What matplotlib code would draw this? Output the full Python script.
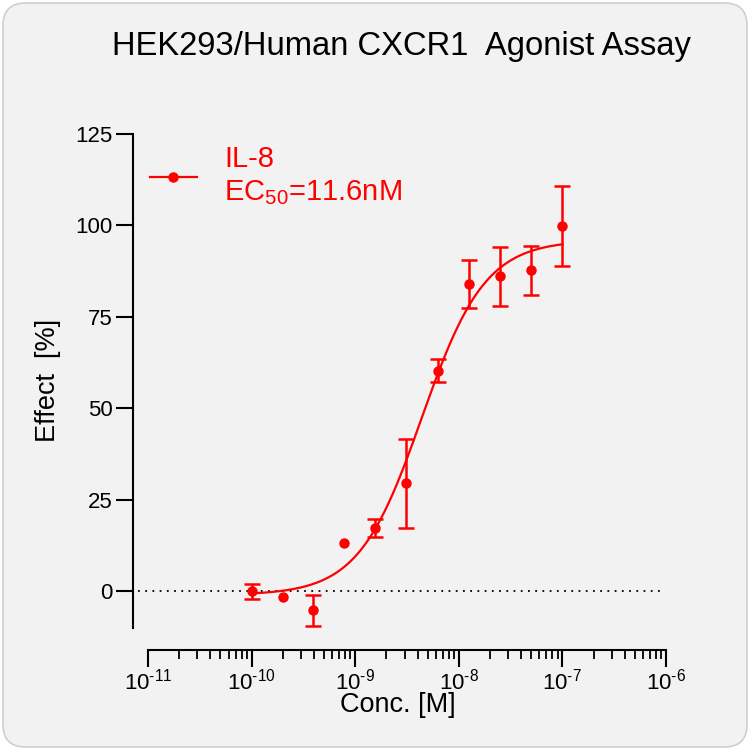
import numpy as np
import matplotlib
matplotlib.use("Agg")
import matplotlib.pyplot as plt
from matplotlib.patches import FancyBboxPatch
from matplotlib.ticker import FixedLocator, FixedFormatter, LogLocator, NullFormatter

plt.rcParams['font.family'] = ['Liberation Sans', 'DejaVu Sans']
plt.rcParams['mathtext.fontset'] = 'custom'
plt.rcParams['mathtext.rm'] = 'Liberation Sans'
plt.rcParams['mathtext.it'] = 'Liberation Sans'
plt.rcParams['mathtext.default'] = 'regular'

# ---- data ----
conc = [1e-10, 2e-10, 3.9e-10, 7.8e-10, 1.56e-9, 3.125e-9, 6.25e-9, 1.25e-8, 2.5e-8, 5e-8, 1e-7]
effect = [0.0, -1.4, -5.2, 13.2, 17.3, 29.5, 60.3, 84.1, 86.1, 87.8, 99.8]
err = [2.0, 0.0, 4.3, 0.0, 2.5, 12.1, 3.1, 6.6, 8.1, 6.7, 11.0]
# 4PL fit parameters
fit_bottom, fit_top, fit_ec50, fit_hill = -1.0, 96.0, 4.4e-9, 1.42
series_label = "IL-8\nEC$_{50}$=11.6nM"
title = "HEK293/Human CXCR1  Agonist Assay"
xlabel = "Conc. [M]"
ylabel = "Effect  [%]"
yticks = [0, 25, 50, 75, 100, 125]
xticks = [1e-11, 1e-10, 1e-9, 1e-8, 1e-7, 1e-6]
xticklabels = [r"$10^{\text{-}11}$", r"$10^{\text{-}10}$", r"$10^{\text{-}9}$",
               r"$10^{\text{-}8}$", r"$10^{\text{-}7}$", r"$10^{\text{-}6}$"]

red = "#ff0000"

fig = plt.figure(figsize=(7.5, 7.5), dpi=100, facecolor="white")
bg = FancyBboxPatch((0.004, 0.004), 0.992, 0.992, boxstyle="round,pad=0,rounding_size=0.03",
                    transform=fig.transFigure, facecolor="#f2f2f2", edgecolor="#cfcfcf",
                    linewidth=1.2, zorder=-10)
fig.patches.append(bg)

W = H = 750.0
ax = fig.add_axes([148 / W, (H - 628) / H, (666 - 148) / W, (628 - 134) / H])
ax.set_facecolor("none")

ax.set_xscale("log")
ax.set_xlim(1e-11, 1e-6)
ax.set_ylim(-10, 125)

# curve
xs = np.logspace(np.log10(conc[0]), np.log10(conc[-1]), 300)
ys = fit_bottom + (fit_top - fit_bottom) / (1 + (fit_ec50 / xs) ** fit_hill)
ax.plot(xs, ys, color=red, lw=1.6, zorder=3)

# zero line
ax.axhline(0, xmin=-0.02, xmax=0.99, color="black", lw=1.3, ls=(0, (1, 3)), clip_on=False, zorder=1)

# points
c = np.array(conc); e = np.array(effect); r = np.array(err)
m = r > 0
ax.errorbar(c[m], e[m], yerr=r[m], fmt="none", ecolor=red, elinewidth=1.8,
            capsize=6, capthick=1.8, zorder=4)
ax.plot(c, e, "o", color=red, ms=6.5, zorder=5)
ax.plot([], [], color=red, marker="o", ms=6.5, lw=1.6, label=series_label)

leg = ax.legend(loc="upper left", bbox_to_anchor=(0.004, 0.977), frameon=False, fontsize=21,
                handlelength=1.6, handletextpad=0.95, borderaxespad=0, borderpad=0,
                labelspacing=0.1)
for t in leg.get_texts():
    t.set_color(red)
    t.set_linespacing(1.2)

# spines
for s in ["top", "right"]:
    ax.spines[s].set_visible(False)
ax.spines["left"].set_position(("outward", 11))
ax.spines["bottom"].set_position(("outward", 16))
ax.spines["left"].set_linewidth(1.5)
ax.spines["bottom"].set_linewidth(1.5)

ax.yaxis.set_major_locator(FixedLocator(yticks))
ax.tick_params(axis="y", which="major", length=12, width=1.5, labelsize=16, pad=2.5)
ax.xaxis.set_major_locator(FixedLocator(xticks))
ax.xaxis.set_major_formatter(FixedFormatter(xticklabels))
ax.xaxis.set_minor_locator(LogLocator(base=10, subs=np.arange(2, 10), numticks=20))
ax.xaxis.set_minor_formatter(NullFormatter())
ax.tick_params(axis="x", which="major", length=12, width=1.5, labelsize=16, pad=1)
ax.tick_params(axis="x", which="minor", length=6.5, width=1.3)

fig.text(398 / W, (H - 705) / H, xlabel, fontsize=19.5, ha="center", va="center")
fig.text(48 / W, (H - 380) / H, ylabel, fontsize=19.5, ha="center", va="center", rotation=90)
fig.text(401 / W, (H - 47) / H, title, fontsize=23.6, ha="center", va="center")

fig.savefig("out.png", dpi=100, facecolor="white")
